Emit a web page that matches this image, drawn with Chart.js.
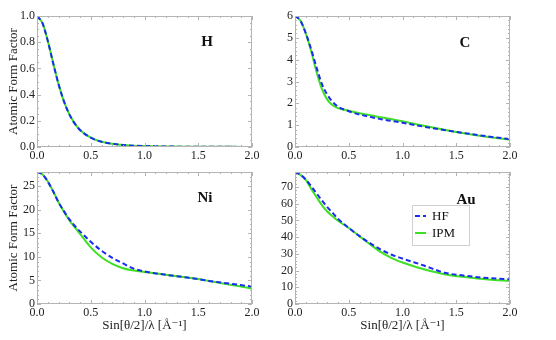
<!DOCTYPE html>
<html>
<head>
<meta charset="utf-8">
<script src="https://cdn.jsdelivr.net/npm/chart.js@4"></script>
<style>
  html, body { margin: 0; padding: 0; background: #fff; }
  #wrap { position: relative; width: 556px; height: 340px; }
  #wrap canvas { position: absolute; left: 0; top: 0; }
</style>
</head>
<body>
<div id="wrap">
  <canvas id="hChart" width="556" height="340"></canvas>
  <canvas id="cChart" width="556" height="340"></canvas>
  <canvas id="niChart" width="556" height="340"></canvas>
  <canvas id="auChart" width="556" height="340"></canvas>
</div>
<script>
// sin(theta/2)/lambda grid [1/A]
const xValues = [0, 0.05, 0.1, 0.15, 0.2, 0.25, 0.3, 0.35, 0.4, 0.5, 0.6, 0.7, 0.8, 0.9, 1.0, 1.2, 1.4, 1.6, 1.8, 2.0];

// H
const hHF  = [1, 0.947, 0.811, 0.641, 0.481, 0.35, 0.251, 0.18, 0.13, 0.071, 0.04, 0.025, 0.015, 0.01, 0.007, 0.004, 0.002, 0.001, 0.001, 0.0005];
const hIPM = [1, 0.947, 0.811, 0.641, 0.481, 0.35, 0.251, 0.18, 0.13, 0.071, 0.04, 0.025, 0.015, 0.01, 0.007, 0.004, 0.002, 0.001, 0.001, 0.0005];
// C
const cHF  = [6, 5.79, 5.22, 4.48, 3.65, 2.89, 2.40, 2.07, 1.85, 1.64, 1.49, 1.38, 1.27, 1.19, 1.11, 0.93, 0.77, 0.62, 0.48, 0.36];
const cIPM = [6, 5.79, 5.2, 4.40, 3.45, 2.66, 2.17, 1.91, 1.78, 1.66, 1.55, 1.45, 1.36, 1.27, 1.18, 0.97, 0.78, 0.61, 0.46, 0.33];
// Ni
const niHF  = [28, 27.5, 26.0, 23.9, 21.6, 19.7, 18.0, 16.6, 15.4, 13.2, 11.3, 9.8, 8.6, 7.5, 6.9, 6.2, 5.6, 4.9, 4.3, 3.7];
const niIPM = [28, 27.5, 26.0, 23.9, 21.6, 19.6, 17.8, 16.3, 14.9, 12.0, 9.9, 8.5, 7.6, 7.1, 6.8, 6.2, 5.6, 4.9, 4.1, 3.3];
// Au
const auHF  = [79, 77.5, 74.5, 70.5, 66.3, 62, 58, 54.5, 51, 45.5, 40.6, 36.3, 32.5, 29.5, 27.2, 23.0, 18.6, 16.8, 15.5, 14.8];
const auIPM = [79, 77.3, 74.3, 69, 64, 59.2, 55.4, 52.5, 49.8, 45.5, 40.6, 35.6, 31.0, 27.5, 24.8, 20.8, 17.7, 16.0, 14.7, 13.8];

const xTicks = [0, 0.5, 1.0, 1.5, 2.0];
const hTicks = [0, 0.2, 0.4, 0.6, 0.8, 1.0];
const cTicks = [0, 1, 2, 3, 4, 5, 6];
const niTicks = [0, 5, 10, 15, 20, 25];
const auTicks = [0, 10, 20, 30, 40, 50, 60, 70];

const serif = "'Liberation Serif', 'DejaVu Serif', serif";
const blue = "#1a2cf0";
const green = "#3ee024";

const toPoints = (ys) => ys.map((y, i) => ({ x: xValues[i], y: y }));

// frame, inward ticks, element label and legend box
const panelPlugin = {
  id: "panel",
  afterDraw(chart, args, opts) {
    const ctx = chart.ctx;
    const a = chart.chartArea;
    const xs = chart.scales.x;
    const ys = chart.scales.y;
    ctx.save();
    ctx.strokeStyle = "#b4b4b4";
    ctx.lineWidth = 1;
    ctx.strokeRect(a.left + 0.5, a.top + 0.5, a.right - a.left - 1, a.bottom - a.top - 1);

    ctx.beginPath();
    for (let v = 0; v <= 2.0001; v += 0.1) {
      const px = Math.round(xs.getPixelForValue(v)) + 0.5;
      const major = Math.abs(v * 2 - Math.round(v * 2)) < 1e-6;
      const len = major ? 4 : 2;
      ctx.moveTo(px, a.bottom); ctx.lineTo(px, a.bottom - len);
      ctx.moveTo(px, a.top); ctx.lineTo(px, a.top + len);
    }
    const step = opts.minorY;
    const n = Math.floor(ys.max / step + 1e-6);
    for (let i = 0; i <= n; i++) {
      const v = i * step;
      const py = Math.round(ys.getPixelForValue(v)) + 0.5;
      const major = i % opts.minorPer === 0;
      const len = major ? 4 : 2;
      ctx.moveTo(a.left, py); ctx.lineTo(a.left + len, py);
      ctx.moveTo(a.right, py); ctx.lineTo(a.right - len, py);
    }
    ctx.stroke();

    ctx.fillStyle = "#111";
    ctx.font = "bold 15px " + serif;
    ctx.textAlign = "center";
    ctx.textBaseline = "middle";
    ctx.fillText(opts.label, a.left + opts.lx, a.top + opts.ly);

    if (opts.legend) {
      const bx = a.left + opts.legend.x, by = a.top + opts.legend.y;
      ctx.strokeStyle = "#d0d0d0";
      ctx.strokeRect(bx + 0.5, by + 0.5, 57, 40);
      ctx.font = "13px " + serif;
      ctx.textAlign = "left";
      chart.data.datasets.forEach((ds, i) => {
        const ry = by + 11 + i * 17;
        ctx.strokeStyle = ds.borderColor;
        ctx.lineWidth = 2;
        ctx.setLineDash(ds.borderDash || []);
        ctx.beginPath();
        ctx.moveTo(bx + 3, ry); ctx.lineTo(bx + 14, ry);
        ctx.stroke();
        ctx.setLineDash([]);
        ctx.fillStyle = "#111";
        ctx.fillText(ds.label, bx + 20, ry + 1);
      });
    }
    ctx.restore();
  }
};

function makeChart(id, hf, ipm, yTicks, yMax, cfg) {
  const ctx = document.getElementById(id).getContext("2d");
  return new Chart(ctx, {
    type: "line",
    data: {
      datasets: [
        { label: "HF", data: toPoints(hf), borderColor: blue, borderWidth: 2, borderDash: [5, 3], pointRadius: 0, cubicInterpolationMode: "monotone", order: 0 },
        { label: "IPM", data: toPoints(ipm), borderColor: green, borderWidth: 2, pointRadius: 0, cubicInterpolationMode: "monotone", order: 1 }
      ]
    },
    options: {
      responsive: false,
      animation: false,
      events: [],
      layout: { padding: cfg.padding },
      plugins: {
        legend: { display: false },
        tooltip: { enabled: false },
        panel: cfg.panel
      },
      scales: {
        x: {
          type: "linear",
          min: 0,
          max: 2,
          grid: { display: false, drawTicks: false },
          border: { display: false },
          afterBuildTicks: (s) => { s.ticks = xTicks.map((v) => ({ value: v })); },
          afterFit: (s) => { s.height = cfg.xHeight; },
          ticks: { color: "#222", padding: 2, font: { family: serif, size: 12 }, callback: (v) => v.toFixed(1), maxRotation: 0 },
          title: { display: cfg.xTitle, text: "Sin[θ/2]/λ [Å⁻¹]", color: "#222", font: { family: serif, size: 13 }, padding: { top: 0, bottom: 7 } }
        },
        y: {
          type: "linear",
          min: 0,
          max: yMax,
          grid: { display: false, drawTicks: false },
          border: { display: false },
          afterBuildTicks: (s) => { s.ticks = yTicks.map((v) => ({ value: v })); },
          afterFit: (s) => { s.width = cfg.yWidth; },
          ticks: { color: "#222", padding: 2, font: { family: serif, size: 12 }, callback: cfg.yFmt },
          title: { display: cfg.yTitle, text: "Atomic Form Factor", color: "#222", font: { family: serif, size: 13 }, padding: { top: 6, bottom: 0 } }
        }
      }
    },
    plugins: [panelPlugin]
  });
}

const intFmt = (v) => String(v);

makeChart("hChart", hHF, hIPM, hTicks, 1.0, {
  padding: { left: 0, top: 16, right: 304, bottom: 173 },
  xHeight: 20, yWidth: 37, xTitle: false, yTitle: true,
  yFmt: (v) => v.toFixed(1),
  panel: { label: "H", lx: 170, ly: 26, minorY: 0.05, minorPer: 4 }
});

makeChart("cChart", cHF, cIPM, cTicks, 6, {
  padding: { left: 258, top: 16, right: 46, bottom: 173 },
  xHeight: 20, yWidth: 37, xTitle: false, yTitle: false,
  yFmt: intFmt,
  panel: { label: "C", lx: 170, ly: 27, minorY: 0.2, minorPer: 5 }
});

makeChart("niChart", niHF, niIPM, niTicks, 28, {
  padding: { left: 0, top: 172, right: 304, bottom: 0 },
  xHeight: 36, yWidth: 37, xTitle: true, yTitle: true,
  yFmt: intFmt,
  panel: { label: "Ni", lx: 168, ly: 26, minorY: 1, minorPer: 5 }
});

makeChart("auChart", auHF, auIPM, auTicks, 79, {
  padding: { left: 258, top: 172, right: 46, bottom: 0 },
  xHeight: 36, yWidth: 37, xTitle: true, yTitle: false,
  yFmt: intFmt,
  panel: { label: "Au", lx: 171, ly: 28, minorY: 2, minorPer: 5, legend: { x: 117, y: 33 } }
});
</script>
</body>
</html>
